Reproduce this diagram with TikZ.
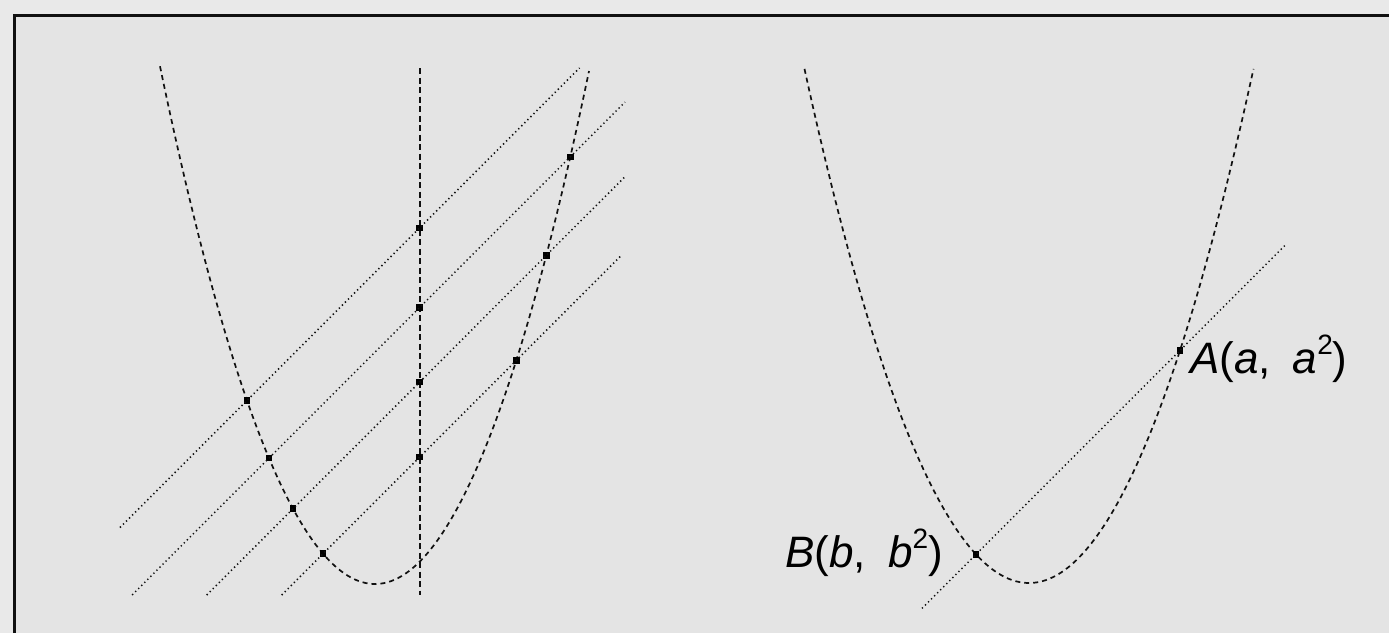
\documentclass[tikz,border=0pt]{standalone}
\usepackage{fontspec}
\setmainfont{Liberation Sans}
\usetikzlibrary{calc}
\definecolor{bgout}{HTML}{E9E9E9}
\definecolor{bgin}{HTML}{E4E4E4}
\definecolor{ink}{HTML}{111111}
\tikzset{
  curvedash/.style={ink, line width=1.7pt, dash pattern=on 5pt off 4pt},
  axisdash/.style={ink, line width=1.8pt, dash pattern=on 6pt off 3.5pt},
  dotline/.style={ink, line width=1.5pt, dash pattern=on 1.3pt off 3pt},
  pt/.style={rectangle, fill=black, minimum size=6.5pt, inner sep=0pt},
  lbl/.style={inner sep=0pt, font=\fontsize{44}{50}\selectfont},
  frameline/.style={draw=ink, line width=2.6pt}
}
\begin{document}
\begin{tikzpicture}[x=10pt, y=-10pt,
  declare function={pL(\x)=58.4-0.112*(\x-37.5)^2; pR(\x)=58.3-0.102*(\x-102.9)^2;}]
\useasboundingbox (0,0) rectangle (138.9,63.3);
\fill[bgout] (0,0) rectangle (138.9,63.3);
\fill[bgin] (1.47,1.53) rectangle (138.9,63.3);
\draw[frameline] (1.47,63.3) -- (1.47,1.53) -- (138.9,1.53);

% ---------- left panel ----------
\draw[curvedash] plot[domain=16.0:58.9, samples=120, smooth] (\x,{pL(\x)});
\coordinate (vtop) at (41.965,6.8);
\coordinate (vbot) at (41.965,59.5);
\draw[axisdash] (vtop) -- (vbot);

\node[pt] (L1) at (24.7,{pL(24.7)}) {};
\node[pt] (L2) at (26.9,{pL(26.9)}) {};
\node[pt] (L3) at (29.3,{pL(29.3)}) {};
\node[pt] (L4) at (32.3,{pL(32.3)}) {};
\node[pt] (R2) at (57.03,{pL(57.03)}) {};
\node[pt] (R3) at (54.63,{pL(54.63)}) {};
\node[pt] (R4) at (51.63,{pL(51.63)}) {};
\node[pt] (M1) at (41.965,{pL(24.7)-(41.965-24.7)}) {};
\node[pt] (M2) at (41.965,{pL(26.9)-(41.965-26.9)}) {};
\node[pt] (M3) at (41.965,{pL(29.3)-(41.965-29.3)}) {};
\node[pt] (M4) at (41.965,{pL(32.3)-(41.965-32.3)}) {};

\coordinate (a1) at ($(L1.center)+(-12.7,12.7)$);
\coordinate (b1) at ($(L1.center)+(33.25,-33.25)$);
\coordinate (a2) at ($(L2.center)+(-13.68,13.68)$);
\coordinate (b2) at ($(L2.center)+(35.6,-35.6)$);
\coordinate (a3) at ($(L3.center)+(-8.63,8.63)$);
\coordinate (b3) at ($(L3.center)+(33.2,-33.2)$);
\coordinate (a4) at ($(L4.center)+(-4.13,4.13)$);
\coordinate (b4) at ($(L4.center)+(29.9,-29.9)$);
\draw[dotline] (a1) -- (L1.center) -- (M1.center) -- (b1);
\draw[dotline] (a2) -- (L2.center) -- (M2.center) -- (R2.center) -- (b2);
\draw[dotline] (a3) -- (L3.center) -- (M3.center) -- (R3.center) -- (b3);
\draw[dotline] (a4) -- (L4.center) -- (M4.center) -- (R4.center) -- (b4);

% ---------- right panel ----------
\draw[curvedash] plot[domain=80.45:125.35, samples=120, smooth] (\x,{pR(\x)});
\node[pt] (B) at (97.6,{pR(97.6)}) {};
\node[pt] (A) at (118.0,{pR(118.0)}) {};
\coordinate (ab1) at ($(B.center)+(-5.4,5.4)$);
\coordinate (ab2) at ($(B.center)+(30.9,-30.9)$);
\draw[dotline] (ab1) -- (B.center) -- (A.center) -- (ab2);

\node[lbl, anchor=base west] (Alab) at (119.0,37.3)
  {\textit{A}(\textit{a},\hspace{0.5em}\textit{a}\raisebox{0.42em}{\fontsize{28}{28}\selectfont 2})};
\node[lbl, anchor=base east] (Blab) at (94.3,56.7)
  {\textit{B}(\textit{b},\hspace{0.5em}\textit{b}\raisebox{0.42em}{\fontsize{28}{28}\selectfont 2})};
\end{tikzpicture}
\end{document}
